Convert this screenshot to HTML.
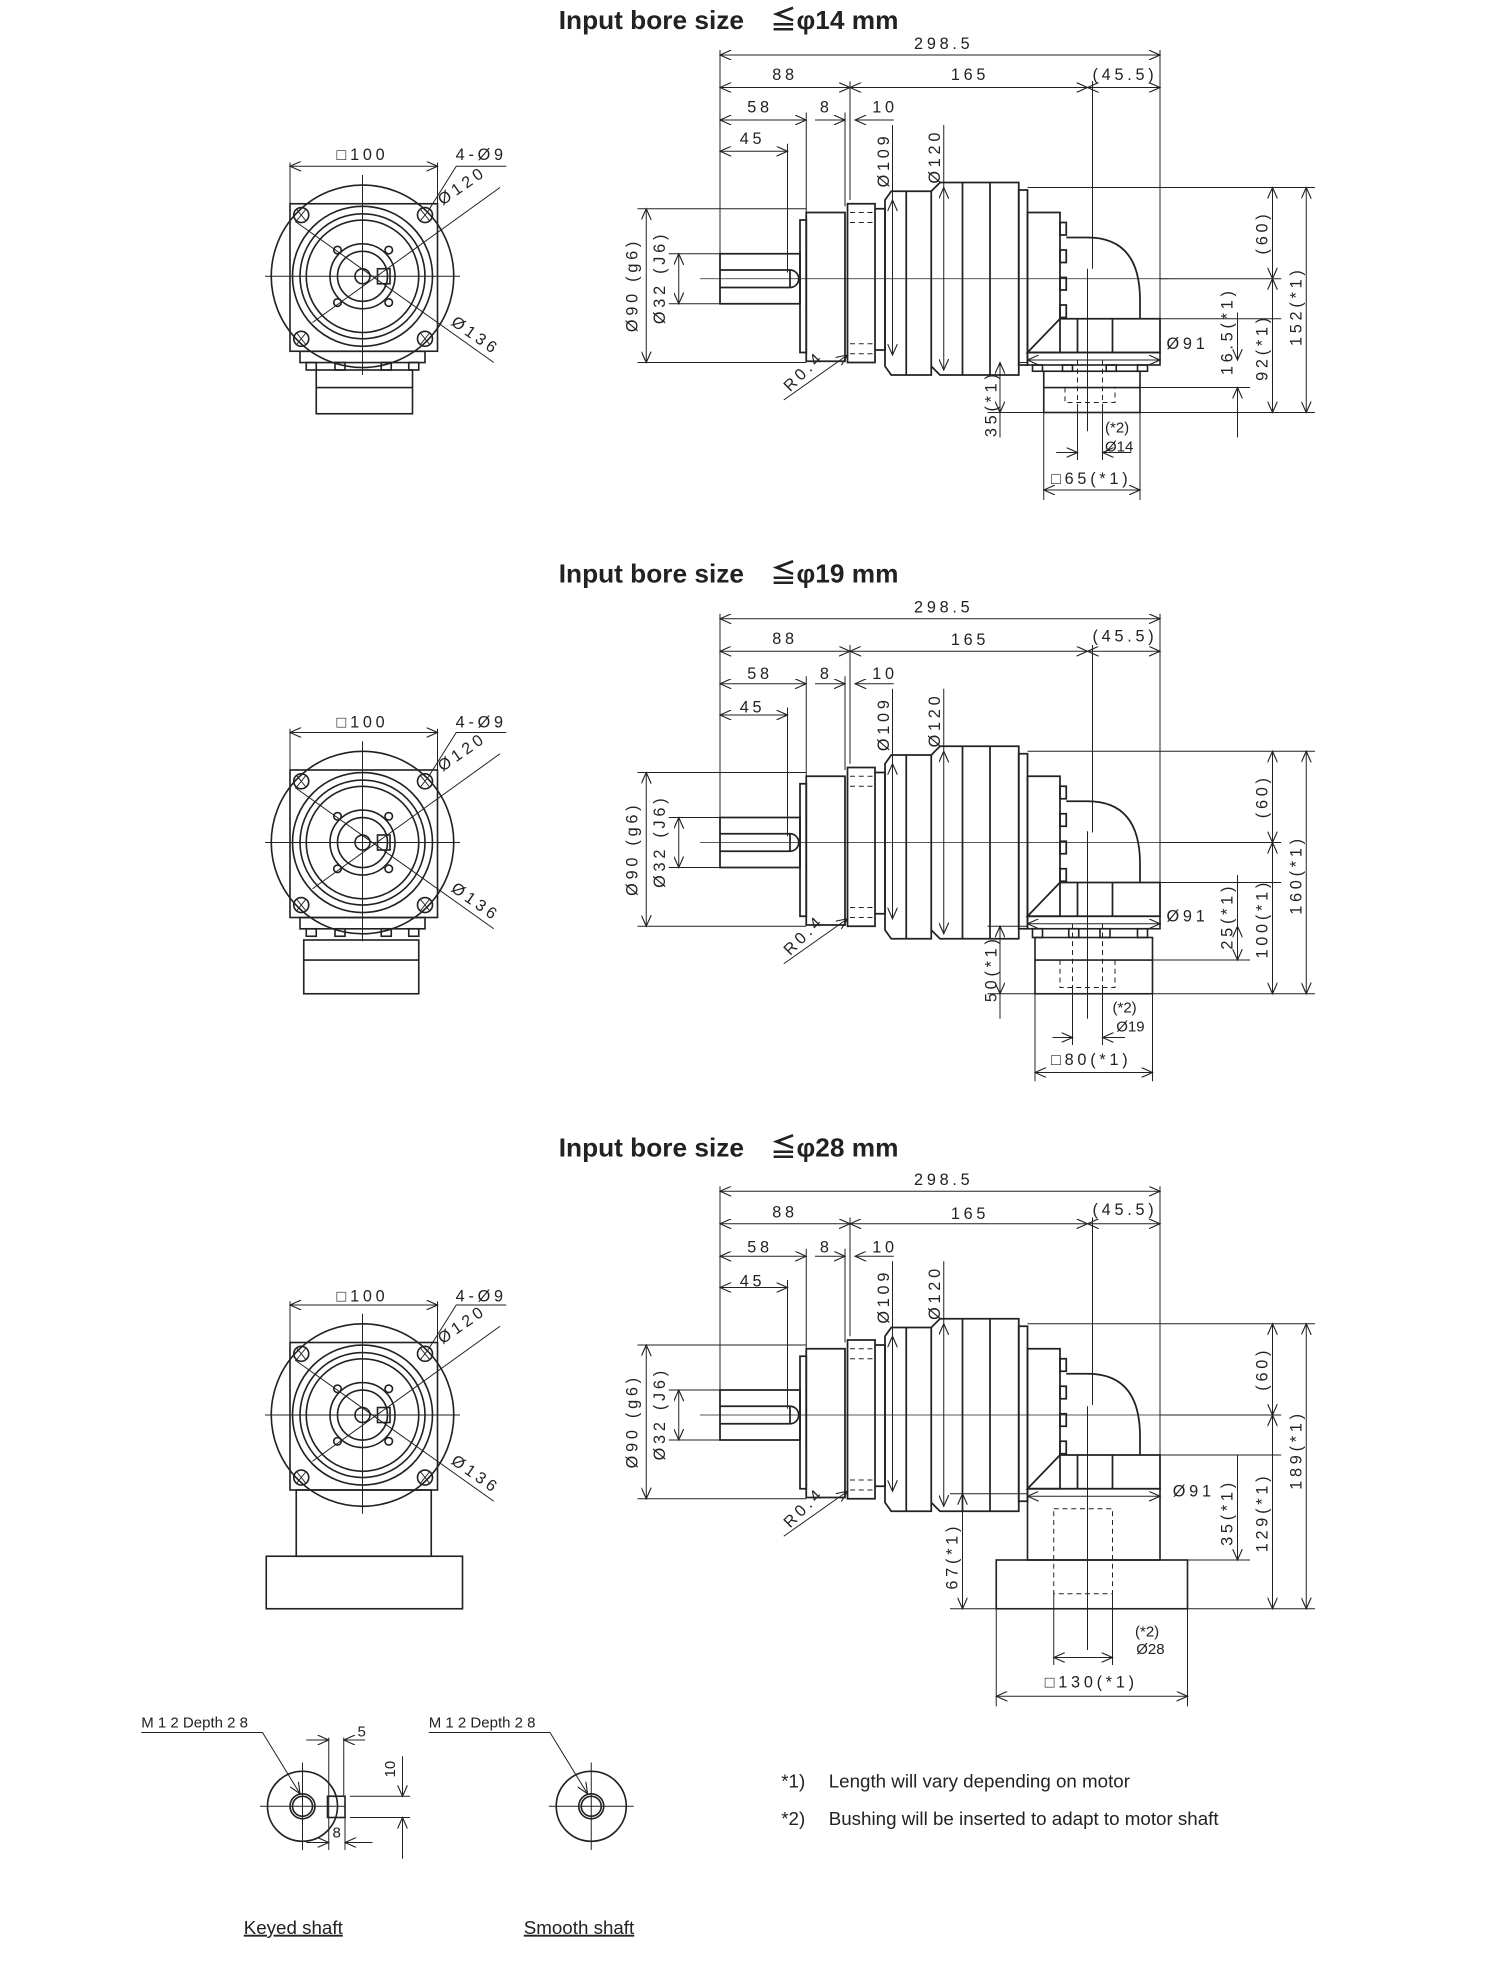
<!DOCTYPE html>
<html><head><meta charset="utf-8"><style>
html,body{margin:0;padding:0;background:#fff}
svg{display:block}
.t{font-family:"Liberation Sans",sans-serif;font-size:13px;letter-spacing:3px;fill:#222}
.h{font-family:"Liberation Sans","Noto Sans CJK JP",sans-serif;font-size:21px;font-weight:bold;fill:#222}
.n{font-family:"Liberation Sans",sans-serif;font-size:15px;fill:#222}
.s{font-family:"Liberation Sans",sans-serif;font-size:12px;fill:#222}
</style></head><body>
<svg width="1500" height="1974" viewBox="0 0 1200 1579.2" xmlns="http://www.w3.org/2000/svg">
<defs>
<marker id="a" markerWidth="10" markerHeight="8" refX="9" refY="4" orient="auto-start-reverse" markerUnits="userSpaceOnUse"><path d="M0,0 L9,4 L0,8" fill="none" stroke="#222" stroke-width="0.9"/></marker>
<g id="side" fill="none" stroke="#222">
 <g stroke-width="0.8">
 <line x1="576" y1="44" x2="928" y2="44" marker-start="url(#a)" marker-end="url(#a)"/>
 <line x1="576" y1="70" x2="680" y2="70" marker-start="url(#a)" marker-end="url(#a)"/>
 <line x1="680" y1="70" x2="870" y2="70" marker-start="url(#a)" marker-end="url(#a)"/>
 <line x1="870" y1="70" x2="928" y2="70" marker-start="url(#a)" marker-end="url(#a)"/>
 <line x1="576" y1="96" x2="645" y2="96" marker-start="url(#a)" marker-end="url(#a)"/>
 <line x1="652" y1="96" x2="676" y2="96" marker-end="url(#a)"/>
 <line x1="715" y1="96" x2="684" y2="96" marker-end="url(#a)"/>
 <line x1="576" y1="121" x2="630" y2="121" marker-start="url(#a)" marker-end="url(#a)"/>
 <line x1="576" y1="40" x2="576" y2="205"/>
 <line x1="630" y1="115" x2="630" y2="218"/>
 <line x1="645" y1="90" x2="645" y2="172"/>
 <line x1="676" y1="90" x2="676" y2="165"/>
 <line x1="680" y1="65" x2="680" y2="160"/>
 <line x1="928" y1="40" x2="928" y2="285"/>
 <line x1="874" y1="65" x2="874" y2="215"/>
 <line x1="714" y1="100" x2="714" y2="160"/>
 <line x1="755" y1="100" x2="755" y2="150"/>
 <line x1="714" y1="160" x2="714" y2="284" marker-start="url(#a)" marker-end="url(#a)"/>
 <line x1="755" y1="150" x2="755" y2="296" marker-start="url(#a)" marker-end="url(#a)"/>
 <line x1="510" y1="167" x2="645" y2="167"/>
 <line x1="510" y1="290" x2="645" y2="290"/>
 <line x1="517" y1="167" x2="517" y2="290" marker-start="url(#a)" marker-end="url(#a)"/>
 <line x1="535" y1="203" x2="576" y2="203"/>
 <line x1="535" y1="243" x2="576" y2="243"/>
 <line x1="543" y1="203" x2="543" y2="243" marker-start="url(#a)" marker-end="url(#a)"/>
 <line x1="627" y1="320" x2="678" y2="284" marker-end="url(#a)"/>
 <line x1="822" y1="150" x2="1052" y2="150"/>
 <line x1="928" y1="223" x2="1025" y2="223"/>
 <line x1="1018" y1="150" x2="1018" y2="223" marker-start="url(#a)" marker-end="url(#a)"/>
 <line x1="822" y1="288" x2="928" y2="288" marker-start="url(#a)" marker-end="url(#a)"/>
 </g>
 <line x1="560" y1="223" x2="935" y2="223" stroke-width="0.6"/>
 <g stroke-width="1.4">
 <rect x="576" y="203" width="64" height="40"/>
 <path d="M576,216 H632 A7,7 0 0 1 632,230 H576"/>
 <line x1="632" y1="216" x2="632" y2="230"/>
 <rect x="640" y="176" width="5" height="106"/>
 <rect x="645" y="170" width="31" height="119"/>
 <rect x="678" y="163" width="22" height="127"/>
 <path d="M700,167 H708 V280 H700"/>
 <path d="M708,160 L713,153 H745 V300 H713 L708,293 Z"/>
 <line x1="725" y1="153" x2="725" y2="300"/>
 <path d="M745,153 L752,146 H815 V300 H752 L745,293"/>
 <line x1="770" y1="146" x2="770" y2="300"/>
 <line x1="792" y1="146" x2="792" y2="300"/>
 <rect x="815" y="152" width="7" height="140"/>
 <rect x="822" y="170" width="26" height="112"/>
 <rect x="848" y="178" width="5" height="10"/><rect x="848" y="200" width="5" height="10"/><rect x="848" y="222" width="5" height="10"/><rect x="848" y="244" width="5" height="10"/>
 <path d="M853,190 H870 Q912,190 912,240 V255"/>
 <path d="M822,282 L848,255 H928 V282 Z"/>
 <line x1="862" y1="255" x2="862" y2="282"/><line x1="890" y1="255" x2="890" y2="282"/>
 </g>
 <g stroke-width="0.8" stroke-dasharray="4,3">
 <line x1="680" y1="170" x2="698" y2="170"/><line x1="680" y1="178" x2="698" y2="178"/>
 <line x1="680" y1="275" x2="698" y2="275"/><line x1="680" y1="283" x2="698" y2="283"/>
 </g>
</g>
<g id="front" fill="none" stroke="#222">
 <g stroke-width="1.3">
 <circle cx="290" cy="221" r="73"/>
 <rect x="232" y="163" width="118" height="118"/>
 <circle cx="290" cy="221" r="56"/><circle cx="290" cy="221" r="50"/><circle cx="290" cy="221" r="45"/>
 <circle cx="290" cy="221" r="26"/><circle cx="290" cy="221" r="20"/><circle cx="290" cy="221" r="6"/>
 <rect x="302" y="215" width="10" height="12"/>
 <circle cx="241" cy="172" r="6"/><circle cx="340" cy="172" r="6"/><circle cx="241" cy="271" r="6"/><circle cx="340" cy="271" r="6"/>
 <circle cx="270" cy="200" r="3"/><circle cx="311" cy="200" r="3"/><circle cx="270" cy="242" r="3"/><circle cx="311" cy="242" r="3"/>
 </g>
 <g stroke-width="0.8">
 <path d="M237,167l8,10M245,167l-8,10M336,167l8,10M344,167l-8,10M237,266l8,10M245,266l-8,10M336,266l8,10M344,266l-8,10"/>
 <line x1="212" y1="221" x2="368" y2="221"/>
 <line x1="290" y1="140" x2="290" y2="300"/>
 <line x1="232" y1="130" x2="232" y2="163"/><line x1="350" y1="130" x2="350" y2="163"/>
 <line x1="232" y1="133" x2="350" y2="133" marker-start="url(#a)" marker-end="url(#a)"/>
 <path d="M343,168 L365,133 H405"/>
 <line x1="236" y1="177" x2="395" y2="290"/>
 <line x1="250" y1="258" x2="400" y2="150"/>
 </g>
</g>
</defs>

<text class="h" x="447" y="23">Input bore size　≦φ14 mm</text>
<use href="#side"/>
<use href="#front"/>
<g class="t" text-anchor="middle">
<text x="755" y="39">298.5</text><text x="628" y="64">88</text><text x="776" y="64">165</text><text x="900" y="64">(45.5)</text>
<text x="608" y="90">58</text><text x="661" y="90">8</text><text x="708" y="90">10</text><text x="602" y="115">45</text>
<text transform="translate(711,128) rotate(-90)">Ø109</text><text transform="translate(752,125) rotate(-90)">Ø120</text>
<text transform="translate(510,228) rotate(-90)">Ø90 (g6)</text><text transform="translate(532,222) rotate(-90)">Ø32 (J6)</text>
<text transform="translate(646,300) rotate(-45)">R0.4</text>
<text transform="translate(1014,186) rotate(-90)">(60)</text>
<text x="950" y="279">Ø91</text>
<text x="290" y="128">□100</text><text x="385" y="128">4-Ø9</text>
<text transform="translate(372,152) rotate(-35)">Ø120</text><text transform="translate(378,272) rotate(35)">Ø136</text>
</g>
<g fill="none" stroke="#222" stroke-width="1.3">
 <path d="M240,281 H340 V290 H240 Z"/><rect x="245" y="290" width="8" height="6"/><rect x="268" y="290" width="8" height="6"/><rect x="305" y="290" width="8" height="6"/><rect x="327" y="290" width="8" height="6"/>
 <rect x="253" y="296" width="77" height="35"/><line x1="253" y1="310" x2="330" y2="310"/>
 <rect x="822" y="282" width="106" height="10"/>
 <rect x="826" y="292" width="8" height="5"/><rect x="850" y="292" width="8" height="5"/><rect x="885" y="292" width="8" height="5"/><rect x="910" y="292" width="8" height="5"/>
 <rect x="835" y="297" width="77" height="33"/><line x1="835" y1="310" x2="912" y2="310"/>
</g>
<g fill="none" stroke="#222" stroke-width="0.8">
 <path d="M862,288 V325 M882,288 V325 M852,310 V322 H892 V310" stroke-dasharray="4,3"/>
 <line x1="870" y1="215" x2="870" y2="345"/>
 <line x1="815" y1="290" x2="822" y2="290"/><line x1="790" y1="330" x2="835" y2="330"/>
 <line x1="800" y1="290" x2="800" y2="330" marker-start="url(#a)" marker-end="url(#a)"/><line x1="800" y1="330" x2="800" y2="350"/>
 <line x1="928" y1="255" x2="1025" y2="255"/>
 <line x1="912" y1="330" x2="1052" y2="330"/><line x1="912" y1="310" x2="1000" y2="310"/>
 <line x1="990" y1="250" x2="990" y2="288" /><line x1="990" y1="268" x2="990" y2="288" marker-end="url(#a)"/><line x1="990" y1="330" x2="990" y2="310" marker-end="url(#a)"/><line x1="990" y1="330" x2="990" y2="350"/>
 <line x1="1018" y1="223" x2="1018" y2="330" marker-start="url(#a)" marker-end="url(#a)"/>
 <line x1="1045" y1="150" x2="1045" y2="330" marker-start="url(#a)" marker-end="url(#a)"/>
 <line x1="835" y1="330" x2="835" y2="400"/><line x1="912" y1="330" x2="912" y2="400"/>
 <line x1="862" y1="325" x2="862" y2="368"/><line x1="882" y1="325" x2="882" y2="368"/>
 <line x1="845" y1="362" x2="862" y2="362" marker-end="url(#a)"/><line x1="905" y1="362" x2="882" y2="362" marker-end="url(#a)"/>
 <line x1="835" y1="392" x2="912" y2="392" marker-start="url(#a)" marker-end="url(#a)"/>
</g>
<g class="t" text-anchor="middle">
<text transform="translate(797,323) rotate(-90)">35(*1)</text>
<text transform="translate(986,265) rotate(-90)">16.5(*1)</text>
<text transform="translate(1014,278) rotate(-90)">92(*1)</text>
<text transform="translate(1041,245) rotate(-90)">152(*1)</text>
<text x="873" y="387">□65(*1)</text>
</g>
<text class="s" x="884" y="346">(*2)</text><text class="s" x="884" y="361">Ø14</text>

<text class="h" x="447" y="466">Input bore size　≦φ19 mm</text>
<use href="#side" transform="translate(0,451)"/>
<use href="#front" transform="translate(0,453)"/>
<g class="t" text-anchor="middle">
<text x="755" y="490">298.5</text><text x="628" y="515">88</text><text x="776" y="516">165</text><text x="900" y="513">(45.5)</text>
<text x="608" y="543">58</text><text x="661" y="543">8</text><text x="708" y="543">10</text><text x="602" y="570">45</text>
<text transform="translate(711,579) rotate(-90)">Ø109</text><text transform="translate(752,576) rotate(-90)">Ø120</text>
<text transform="translate(510,679) rotate(-90)">Ø90 (g6)</text><text transform="translate(532,673) rotate(-90)">Ø32 (J6)</text>
<text transform="translate(646,751) rotate(-45)">R0.4</text>
<text transform="translate(1014,637) rotate(-90)">(60)</text>
<text x="950" y="737">Ø91</text>
<text x="290" y="582">□100</text><text x="385" y="582">4-Ø9</text>
<text transform="translate(372,605) rotate(-35)">Ø120</text><text transform="translate(378,725) rotate(35)">Ø136</text>
</g>
<g fill="none" stroke="#222" stroke-width="1.3">
 <path d="M240,734 H340 V743 H240 Z"/><rect x="245" y="743" width="8" height="6"/><rect x="268" y="743" width="8" height="6"/><rect x="305" y="743" width="8" height="6"/><rect x="327" y="743" width="8" height="6"/>
 <rect x="243" y="752" width="92" height="43"/><line x1="243" y1="768" x2="335" y2="768"/>
 <rect x="822" y="733" width="106" height="10"/>
 <rect x="826" y="743" width="8" height="7"/><rect x="855" y="743" width="8" height="7"/><rect x="880" y="743" width="8" height="7"/><rect x="910" y="743" width="8" height="7"/>
 <rect x="828" y="750" width="94" height="45"/><line x1="828" y1="768" x2="922" y2="768"/>
</g>
<g fill="none" stroke="#222" stroke-width="0.8">
 <path d="M858,739 V790 M882,739 V790 M848,768 V790 H892 V768" stroke-dasharray="4,3"/>
 <line x1="870" y1="665" x2="870" y2="815"/>
 <line x1="790" y1="741" x2="822" y2="741"/><line x1="790" y1="795" x2="828" y2="795"/>
 <line x1="800" y1="741" x2="800" y2="795" marker-start="url(#a)" marker-end="url(#a)"/><line x1="800" y1="795" x2="800" y2="815"/>
 <line x1="928" y1="706" x2="1025" y2="706"/>
 <line x1="922" y1="795" x2="1052" y2="795"/><line x1="922" y1="768" x2="1000" y2="768"/>
 <line x1="990" y1="700" x2="990" y2="741"/><line x1="990" y1="741" x2="990" y2="768" marker-start="url(#a)" marker-end="url(#a)"/>
 <line x1="1018" y1="674" x2="1018" y2="795" marker-start="url(#a)" marker-end="url(#a)"/>
 <line x1="1045" y1="601" x2="1045" y2="795" marker-start="url(#a)" marker-end="url(#a)"/>
 <line x1="828" y1="795" x2="828" y2="865"/><line x1="922" y1="795" x2="922" y2="865"/>
 <line x1="858" y1="790" x2="858" y2="836"/><line x1="882" y1="790" x2="882" y2="836"/>
 <line x1="842" y1="830" x2="858" y2="830" marker-end="url(#a)"/><line x1="900" y1="830" x2="882" y2="830" marker-end="url(#a)"/>
 <line x1="828" y1="858" x2="922" y2="858" marker-start="url(#a)" marker-end="url(#a)"/>
</g>
<g class="t" text-anchor="middle">
<text transform="translate(797,775) rotate(-90)">50(*1)</text>
<text transform="translate(986,733) rotate(-90)">25(*1)</text>
<text transform="translate(1014,735) rotate(-90)">100(*1)</text>
<text transform="translate(1041,700) rotate(-90)">160(*1)</text>
<text x="873" y="852">□80(*1)</text>
</g>
<text class="s" x="890" y="810">(*2)</text><text class="s" x="893" y="825">Ø19</text>

<text class="h" x="447" y="925">Input bore size　≦φ28 mm</text>
<use href="#side" transform="translate(0,909)"/>
<use href="#front" transform="translate(0,911)"/>
<g class="t" text-anchor="middle">
<text x="755" y="948">298.5</text><text x="628" y="974">88</text><text x="776" y="975">165</text><text x="900" y="972">(45.5)</text>
<text x="608" y="1002">58</text><text x="661" y="1002">8</text><text x="708" y="1002">10</text><text x="602" y="1029">45</text>
<text transform="translate(711,1037) rotate(-90)">Ø109</text><text transform="translate(752,1034) rotate(-90)">Ø120</text>
<text transform="translate(510,1137) rotate(-90)">Ø90 (g6)</text><text transform="translate(532,1131) rotate(-90)">Ø32 (J6)</text>
<text transform="translate(646,1209) rotate(-45)">R0.4</text>
<text transform="translate(1014,1095) rotate(-90)">(60)</text>
<text x="955" y="1197">Ø91</text>
<text x="290" y="1041">□100</text><text x="385" y="1041">4-Ø9</text>
<text transform="translate(372,1063) rotate(-35)">Ø120</text><text transform="translate(378,1183) rotate(35)">Ø136</text>
</g>
<g fill="none" stroke="#222" stroke-width="1.3">
 <rect x="237" y="1192" width="108" height="53"/>
 <rect x="213" y="1245" width="157" height="42"/>
 <rect x="822" y="1191" width="106" height="57"/>
 <rect x="797" y="1248" width="153" height="39"/>
</g>
<g fill="none" stroke="#222" stroke-width="0.8">
 <path d="M843,1207 H890 V1275 H843 Z" stroke-dasharray="4,3"/>
 <line x1="870" y1="1125" x2="870" y2="1320"/>
 <line x1="760" y1="1195" x2="822" y2="1195"/><line x1="760" y1="1287" x2="797" y2="1287"/>
 <line x1="770" y1="1195" x2="770" y2="1287" marker-start="url(#a)" marker-end="url(#a)"/>
 <line x1="928" y1="1164" x2="1025" y2="1164"/>
 <line x1="950" y1="1287" x2="1052" y2="1287"/><line x1="928" y1="1248" x2="1000" y2="1248"/>
 <line x1="990" y1="1164" x2="990" y2="1248" marker-end="url(#a)"/>
 <line x1="1018" y1="1132" x2="1018" y2="1287" marker-start="url(#a)" marker-end="url(#a)"/>
 <line x1="1045" y1="1059" x2="1045" y2="1287" marker-start="url(#a)" marker-end="url(#a)"/>
 <line x1="797" y1="1287" x2="797" y2="1365"/><line x1="950" y1="1287" x2="950" y2="1365"/>
 <line x1="843" y1="1275" x2="843" y2="1332"/><line x1="890" y1="1275" x2="890" y2="1332"/>
 <line x1="843" y1="1326" x2="890" y2="1326" marker-start="url(#a)" marker-end="url(#a)"/>
 <line x1="797" y1="1357" x2="950" y2="1357" marker-start="url(#a)" marker-end="url(#a)"/>
</g>
<g class="t" text-anchor="middle">
<text transform="translate(766,1245) rotate(-90)">67(*1)</text>
<text transform="translate(986,1210) rotate(-90)">35(*1)</text>
<text transform="translate(1014,1210) rotate(-90)">129(*1)</text>
<text transform="translate(1041,1160) rotate(-90)">189(*1)</text>
<text x="873" y="1350">□130(*1)</text>
</g>
<text class="s" x="908" y="1309">(*2)</text><text class="s" x="909" y="1323">Ø28</text>

<g fill="none" stroke="#222">
 <g stroke-width="1.3">
 <circle cx="242" cy="1445" r="28"/><circle cx="242" cy="1445" r="10"/><circle cx="242" cy="1445" r="8"/>
 <rect x="262" y="1437" width="14" height="17"/>
 <circle cx="473" cy="1445" r="28"/><circle cx="473" cy="1445" r="10"/><circle cx="473" cy="1445" r="8"/>
 </g>
 <g stroke-width="0.8">
 <line x1="208" y1="1445" x2="276" y2="1445"/><line x1="242" y1="1410" x2="242" y2="1480"/>
 <line x1="439" y1="1445" x2="507" y2="1445"/><line x1="473" y1="1410" x2="473" y2="1480"/>
 <path d="M113,1386 H210 L240,1435" marker-end="url(#a)"/>
 <path d="M343,1386 H440 L470,1435" marker-end="url(#a)"/>
 <line x1="263" y1="1390" x2="263" y2="1480"/><line x1="275" y1="1390" x2="275" y2="1437"/><line x1="276" y1="1454" x2="276" y2="1480"/>
 <line x1="245" y1="1392" x2="263" y2="1392" marker-end="url(#a)"/><line x1="292" y1="1392" x2="275" y2="1392" marker-end="url(#a)"/>
 <line x1="245" y1="1474" x2="263" y2="1474" marker-end="url(#a)"/><line x1="298" y1="1474" x2="276" y2="1474" marker-end="url(#a)"/>
 <line x1="280" y1="1437" x2="328" y2="1437"/><line x1="280" y1="1454" x2="328" y2="1454"/>
 <line x1="322" y1="1405" x2="322" y2="1437" marker-end="url(#a)"/><line x1="322" y1="1487" x2="322" y2="1454" marker-end="url(#a)"/>
 </g>
</g>
<text class="s" x="113" y="1382">M 1 2 Depth 2  8</text>
<text class="s" x="343" y="1382">M 1 2 Depth 2  8</text>
<text class="s" x="286" y="1389">5</text>
<text class="s" transform="translate(316,1422) rotate(-90)">10</text>
<text class="s" x="266" y="1470">8</text>
<text class="n" x="195" y="1547" text-decoration="underline">Keyed shaft</text>
<text class="n" x="419" y="1547" text-decoration="underline">Smooth shaft</text>
<text class="n" x="625" y="1430">*1)</text><text class="n" x="663" y="1430">Length will vary depending on motor</text>
<text class="n" x="625" y="1460">*2)</text><text class="n" x="663" y="1460">Bushing will be inserted to adapt to motor shaft</text>
</svg>
</body></html>
